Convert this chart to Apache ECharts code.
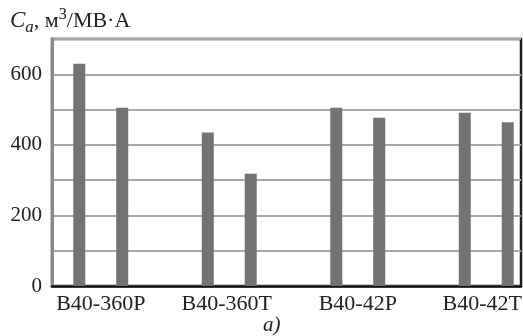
<!DOCTYPE html>
<html><head><meta charset="utf-8">
<script src="https://cdn.jsdelivr.net/npm/echarts@6/dist/echarts.min.js"></script>
<style>html,body{margin:0;padding:0;background:#fff}#c{width:523px;height:336px}</style>
</head><body><div id="c"></div>
<script>
const categories = ['B40-360P', 'B40-360T', 'B40-42P', 'B40-42T'];
const seriesA = [630, 435, 505, 491];
const seriesB = [505, 318, 477, 464];
const yTickLabels = [0, 200, 400, 600];
const yMin = 0, yMax = 700, yStep = 100;

const FONT = '"Liberation Serif", "DejaVu Serif", serif';
const chart = echarts.init(document.getElementById('c'), null, {renderer: 'canvas'});
const TOP = 39, BOTTOM = 50;
chart.setOption({
  animation: false,
  backgroundColor: '#fff',
  title: {
    left: 10, top: 4, padding: 0,
    text: '{c|C}{s|a}{n|, м}{p|3}{n|/МВ·А}',
    textStyle: {
      fontWeight: 'normal',
      rich: {
        c: {fontFamily: FONT, fontSize: 23, fontStyle: 'italic', fontWeight: 'normal', color: '#222', lineHeight: 28, verticalAlign: 'bottom'},
        s: {fontFamily: FONT, fontSize: 17, fontStyle: 'italic', fontWeight: 'normal', color: '#222', lineHeight: 28, verticalAlign: 'bottom', padding: [0, 0, -4, 0]},
        n: {fontFamily: FONT, fontSize: 22, fontWeight: 'normal', color: '#222', lineHeight: 28, verticalAlign: 'bottom'},
        p: {fontFamily: FONT, fontSize: 16, fontWeight: 'normal', color: '#222', lineHeight: 28, verticalAlign: 'top', padding: [3, 0, 0, 0]}
      }
    }
  },
  graphic: [{
    type: 'text', left: 263, top: 315,
    style: {text: 'a)', font: 'italic 21px ' + FONT, fill: '#222'}
  }],
  grid: [
    {left: 52, right: 2, top: TOP, bottom: BOTTOM, show: true, borderColor: '#1e1e1e', borderWidth: 2.5, backgroundColor: 'transparent', outerBoundsMode: 'none', containLabel: false},
    {left: 36.5, right: -27.5, top: TOP, bottom: BOTTOM, outerBoundsMode: 'none', containLabel: false}
  ],
  xAxis: [
    {gridIndex: 0, type: 'category', data: categories, axisLine: {show: true, lineStyle: {color: '#111', width: 2.5}},
     axisTick: {show: false}, axisLabel: {show: false}, splitLine: {show: false}},
    {gridIndex: 1, type: 'category', data: categories, axisLine: {show: false}, axisTick: {show: false},
     axisLabel: {show: true, interval: 0, margin: 7, fontFamily: FONT, fontSize: 22, color: '#222', hideOverlap: false,
       formatter: (v, i) => i === 3 ? '{r3|' + v + '}' : (i === 1 ? '{r1|' + v + '}' : v),
       rich: {
         r1: {fontFamily: FONT, fontSize: 22, color: '#222', padding: [0, 5, 0, 0]},
         r3: {fontFamily: FONT, fontSize: 22, color: '#222', padding: [0, 8, 0, 0]}
       }}}
  ],
  yAxis: [
    {gridIndex: 0, type: 'value', min: yMin, max: yMax, interval: yStep,
     axisLine: {show: true, lineStyle: {color: '#8a8a8a', width: 3}},
     axisTick: {show: false},
     splitLine: {show: true, lineStyle: {color: '#a8a8a8', width: 2}},
     axisLabel: {margin: 10, fontFamily: FONT, fontSize: 21, color: '#222',
       formatter: v => yTickLabels.indexOf(v) >= 0 ? String(v) : ''}},
    {gridIndex: 1, type: 'value', min: yMin, max: yMax, interval: yStep, show: false}
  ],
  series: [
    {type: 'bar', xAxisIndex: 1, yAxisIndex: 1, data: seriesA, barWidth: 12, barGap: '258%', itemStyle: {color: '#737373'}, z: 5},
    {type: 'bar', xAxisIndex: 1, yAxisIndex: 1, data: seriesB, barWidth: 12, barGap: '258%', itemStyle: {color: '#737373'}, z: 5}
  ]
});
</script></body></html>
